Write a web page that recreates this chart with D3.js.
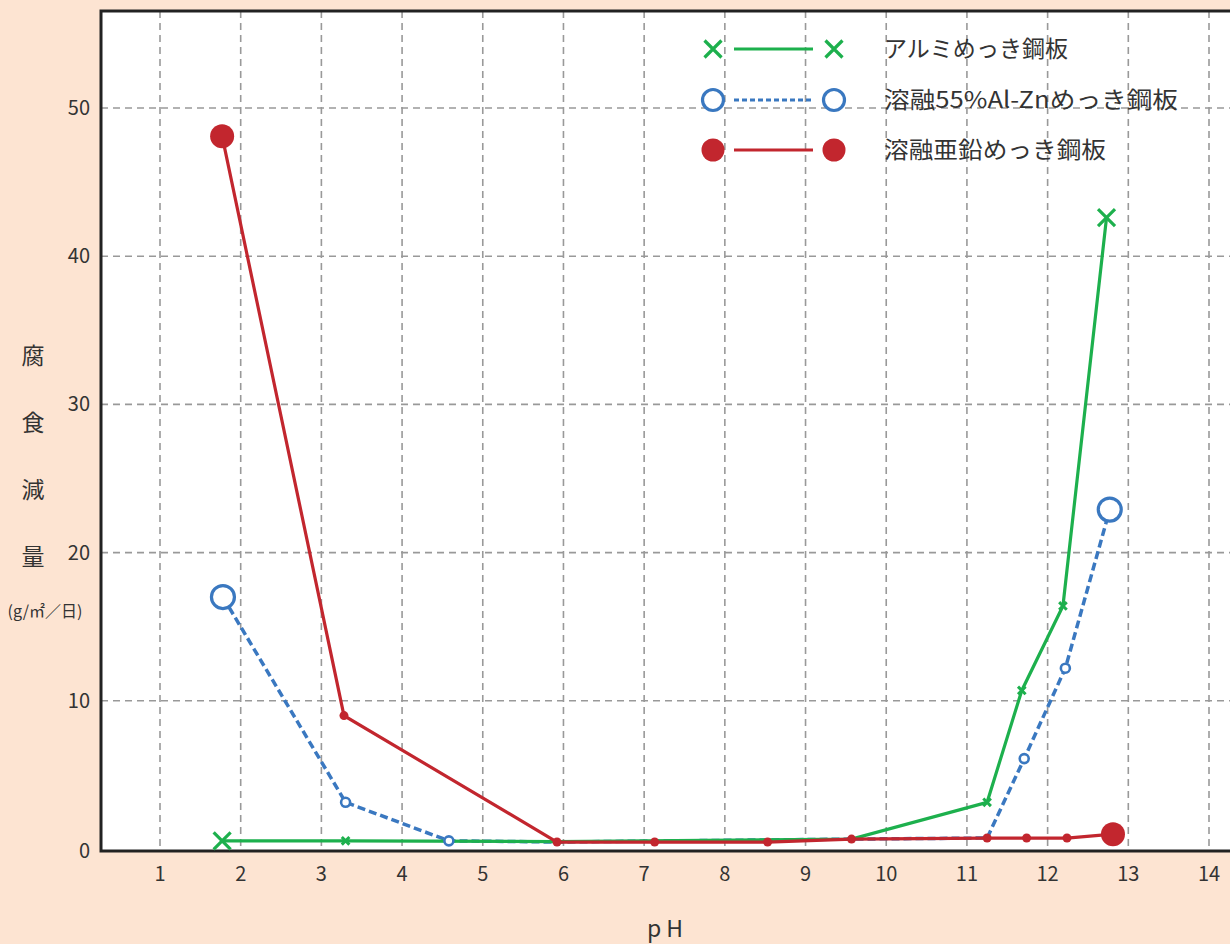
<!DOCTYPE html>
<html><head><meta charset="utf-8">
<script src="https://cdn.jsdelivr.net/npm/d3@7"></script>
<style>
html,body{margin:0;padding:0;background:#fde4d2;}
svg{display:block;}
text{font-family:"Noto Sans CJK JP","Noto Sans",sans-serif;}
</style></head>
<body>
<script>
// ---- data ----
const xTicks = [1,2,3,4,5,6,7,8,9,10,11,12,13,14];
const yTicks = [0,10,20,30,40,50];
const yTitleChars = ["腐","食","減","量"];
const yUnit = "(g/㎡／日)";
const xTitle = "p H";
const seriesNames = ["アルミめっき鋼板","溶融55%Al-Znめっき鋼板","溶融亜鉛めっき鋼板"];

const alumiPH    = [1.77, 3.30, 5.92, 9.57, 11.25, 11.68, 12.19, 12.73];
const alumiVal   = [0.55, 0.55, 0.50, 0.67, 3.15, 10.7, 16.4, 42.6];
const galvaPH    = [1.78, 3.30, 4.58, 5.92, 9.57, 11.25, 11.71, 12.22, 12.77];
const galvaVal   = [17.0, 3.15, 0.55, 0.47, 0.67, 0.74, 6.1, 12.2, 22.9];
const zincPH     = [1.77, 3.28, 5.92, 7.13, 8.53, 9.57, 11.25, 11.74, 12.24, 12.81];
const zincVal    = [48.1, 9.0, 0.47, 0.47, 0.47, 0.67, 0.74, 0.74, 0.74, 1.0];

(function(){
const W = 1230, H = 944;
const svg = d3.select("body").append("svg").attr("width", W).attr("height", H);
svg.append("rect").attr("width", W).attr("height", H).attr("fill", "#fde4d2");

const pL = 101, pT = 11, pR = 1232, pB = 851;
const x = d3.scaleLinear().domain([1,14]).range([160,1209]);
const y = d3.scaleLinear().domain([0,50]).range([849,108]);

svg.append("rect").attr("x", pL).attr("y", pT).attr("width", pR-pL).attr("height", pB-pT).attr("fill", "#fff");

// grid
const grid = svg.append("g").attr("stroke", "#999").attr("stroke-width", 1.6).attr("stroke-dasharray", "7,5");
grid.selectAll("line.v").data(xTicks).join("line").attr("class","v")
  .attr("x1", d => x(d)).attr("x2", d => x(d)).attr("y1", pT).attr("y2", pB);
grid.selectAll("line.h").data(yTicks.filter(d => d > 0)).join("line").attr("class","h")
  .attr("x1", pL).attr("x2", pR).attr("y1", d => y(d)).attr("y2", d => y(d));

// axes (box)
svg.append("path").attr("d", `M${pR},${pT}H${pL}V${pB}H${pR}`)
  .attr("fill", "none").attr("stroke", "#222").attr("stroke-width", 3);

// tick labels
svg.append("g").selectAll("text").data(xTicks).join("text")
  .attr("x", d => x(d)).attr("y", 881).attr("text-anchor", "middle")
  .attr("font-size", 20).attr("fill", "#333").text(d => d);
svg.append("g").selectAll("text").data(yTicks).join("text")
  .attr("x", 90).attr("y", d => y(d) + 7 + (d === 0 ? 2 : 0)).attr("text-anchor", "end")
  .attr("font-size", 20).attr("fill", "#333").text(d => d);

// axis titles
svg.append("g").selectAll("text").data(yTitleChars).join("text")
  .attr("x", 33).attr("y", (d,i) => 364 + i*67).attr("text-anchor", "middle")
  .attr("font-size", 23).attr("fill", "#333").text(d => d);
svg.append("text").attr("x", 45).attr("y", 617).attr("text-anchor", "middle")
  .attr("font-size", 16).attr("fill", "#333").text(yUnit);
svg.append("text").attr("x", 665).attr("y", 937).attr("text-anchor", "middle")
  .attr("font-size", 23).attr("fill", "#333").text(xTitle);

const GREEN = "#1db04d", BLUE = "#3a78c0", RED = "#c2262e";
const mk = (ph, v) => ph.map((p,i) => ({p, v: v[i], i, n: ph.length}));
const alumi = mk(alumiPH, alumiVal), galva = mk(galvaPH, galvaVal), zinc = mk(zincPH, zincVal);
const line = d3.line().x(d => x(d.p)).y(d => y(d.v));
// a marker lies hidden under a zinc point at (almost) the same place
const underZinc = d => zinc.some(z => Math.abs(z.p - d.p) < 0.03 && Math.abs(z.v - d.v) < 0.3);

// lines
svg.append("path").datum(galva).attr("d", line).attr("fill","none").attr("stroke", BLUE)
  .attr("stroke-width", 3.5).attr("stroke-dasharray", "8,4");
svg.append("path").datum(alumi).attr("d", line).attr("fill","none").attr("stroke", GREEN).attr("stroke-width", 3.2);
svg.append("path").datum(zinc).attr("d", line).attr("fill","none").attr("stroke", RED).attr("stroke-width", 3.2);

function xMark(g, cx, cy, s, w){
  g.append("path").attr("d", `M${cx-s},${cy-s}L${cx+s},${cy+s}M${cx-s},${cy+s}L${cx+s},${cy-s}`)
   .attr("stroke", GREEN).attr("stroke-width", w).attr("fill","none");
}
const isEnd = d => d.i === 0 || d.i === d.n - 1;

// markers
const mg = svg.append("g");
galva.filter(d => !underZinc(d)).forEach(d => {
  mg.append("circle").attr("cx", x(d.p)).attr("cy", y(d.v)).attr("r", isEnd(d) ? 11.5 : 4.5)
    .attr("fill", "#fff").attr("stroke", BLUE).attr("stroke-width", isEnd(d) ? 3.2 : 2.6);
});
alumi.filter(d => !underZinc(d)).forEach(d => {
  if (isEnd(d)) xMark(mg, x(d.p), y(d.v), 8.5, 3.2); else xMark(mg, x(d.p), y(d.v), 3.8, 3);
});
zinc.forEach(d => {
  mg.append("circle").attr("cx", x(d.p)).attr("cy", y(d.v)).attr("r", isEnd(d) ? 12 : 4.5).attr("fill", RED);
});

// legend
const lg = svg.append("g");
const rows = [49, 100, 150];
const lx1 = 713, lx2 = 834;
xMark(lg, lx1, rows[0], 8.5, 3.2); xMark(lg, lx2, rows[0], 8.5, 3.2);
lg.append("line").attr("x1", 734).attr("x2", 813).attr("y1", rows[0]).attr("y2", rows[0]).attr("stroke", GREEN).attr("stroke-width", 3);
lg.append("line").attr("x1", 734).attr("x2", 813).attr("y1", rows[1]).attr("y2", rows[1]).attr("stroke", BLUE).attr("stroke-width", 3).attr("stroke-dasharray", "5,3");
[lx1, lx2].forEach(cx => lg.append("circle").attr("cx", cx).attr("cy", rows[1]).attr("r", 10.5).attr("fill","#fff").attr("stroke", BLUE).attr("stroke-width", 3.2));
lg.append("line").attr("x1", 734).attr("x2", 813).attr("y1", rows[2]).attr("y2", rows[2]).attr("stroke", RED).attr("stroke-width", 3);
[lx1, lx2].forEach(cx => lg.append("circle").attr("cx", cx).attr("cy", rows[2]).attr("r", 11.5).attr("fill", RED));
const legendWidths = [184, 294, 222];
lg.selectAll("text").data(seriesNames).join("text")
  .attr("x", 884).attr("y", (d,i) => rows[i] + 8).attr("font-size", 23).attr("fill", "#333")
  .attr("textLength", (d,i) => legendWidths[i]).attr("lengthAdjust", "spacingAndGlyphs").text(d => d);
})();
</script>
</body></html>
